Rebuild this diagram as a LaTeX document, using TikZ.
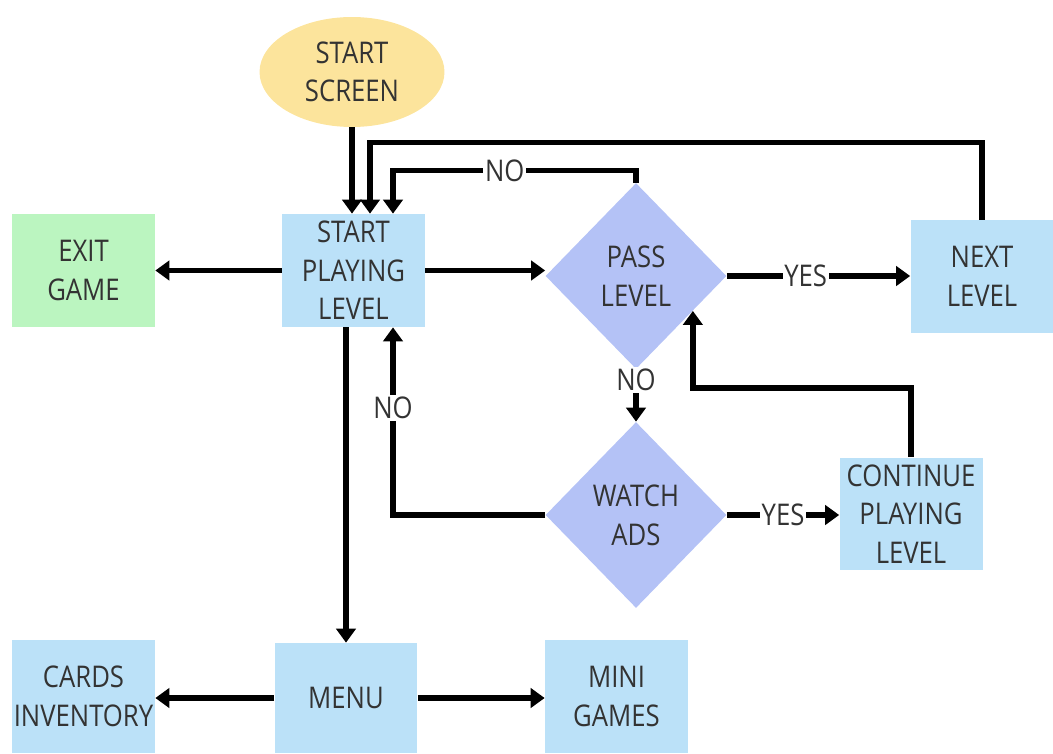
\documentclass[tikz,border=0pt]{standalone}
\usepackage{fontspec}
\setmainfont[FakeStretch=0.86]{Open Sans}
\usetikzlibrary{shapes.geometric,arrows.meta,calc}
\definecolor{startyel}{RGB}{252,228,156}
\definecolor{boxblue}{RGB}{187,225,248}
\definecolor{exitgreen}{RGB}{187,245,192}
\definecolor{askblue}{RGB}{180,194,246}
\tikzset{
	txt/.style={font=\fontsize{17}{22}\selectfont, text=black!80, align=center},
	blk/.style={txt, rectangle, fill=boxblue, minimum width=2.86cm, minimum height=2.26cm, inner sep=0pt},
	ask/.style={txt, diamond, fill=askblue, minimum width=3.62cm, minimum height=3.72cm, inner sep=0pt},
	arr/.style={line width=3.2pt, -{Triangle[length=8pt,width=11pt]}},
	lbl/.style={txt, fill=white, inner sep=1pt}
}
\begin{document}
\begin{tikzpicture}[x=0.02cm, y=-0.02cm]
		\useasboundingbox (0,0) rectangle (1053,753);
		\node[txt, ellipse, fill=startyel, minimum width=3.7cm, minimum height=2.2cm] (start) at (352,72) {START\\SCREEN};
		\node[blk] (play) at (353.5,270.5) {START\\PLAYING\\LEVEL};
		\node[blk, fill=exitgreen] (exitg) at (83.5,270.5) {EXIT\\GAME};
		\node[ask] (pass) at (636,276) {PASS\\LEVEL};
		\node[blk] (next) at (982,276.5) {NEXT\\LEVEL};
		\node[ask] (watch) at (636,515) {WATCH\\ADS};
		\node[blk] (cont) at (911,514) {CONTINUE\\PLAYING\\LEVEL};
		\node[blk, minimum height=2.2cm] (menu) at (346,698) {MENU};
		\node[blk] (cards) at (83.5,696.5) {CARDS\\INVENTORY};
		\node[blk] (mini) at (616.5,696.5) {MINI\\GAMES};
		\coordinate (ret) at ($(pass.east)!0.374!(pass.south)$);
		% top row
		\draw[arr] (start.south) -- (start.south |- play.north);
		\draw[arr] (next.north) -- ++(0,-77) -| ($(play.north)+(16.5,0)$);
		\draw[arr] (pass.north) -- ++(0,-12) -| node[lbl, pos=0.27] {NO} ($(play.north)+(39.5,0)$);
		\draw[arr] (play.west) -- (exitg.east);
		\draw[arr] (play.east) -- (play.east -| pass.west);
		\draw[arr] (pass.east) -- node[lbl, pos=0.43] {YES} (pass.east -| next.west);
		% retry branch
		\draw[arr] (pass.south) -- node[lbl, pos=0.2] {NO} (watch.north);
		\draw[arr] (watch.west) -| node[lbl, pos=0.785] {NO} ($(play.south)+(39.5,0)$);
		\draw[arr] (watch.east) -- node[lbl] {YES} (watch.east -| cont.west);
		\draw[arr] (cont.north) -- ++(0,-69) -| (ret);
		% menu
		\draw[arr] (menu.north |- play.south) -- (menu.north);
		\draw[arr] (menu.west) -- (menu.west -| cards.east);
		\draw[arr] (menu.east) -- (menu.east -| mini.west);
	\end{tikzpicture}
\end{document}
